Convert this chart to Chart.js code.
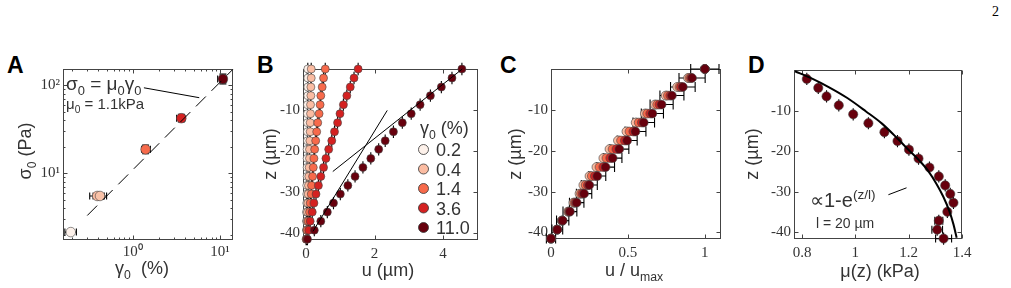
<!DOCTYPE html>
<html>
<head>
<meta charset="utf-8">
<script src="https://cdn.jsdelivr.net/npm/chart.js@4.4.1/dist/chart.umd.min.js"></script>
<style>
  html, body { margin: 0; padding: 0; background: #fff; }
  body { width: 1011px; height: 288px; position: relative; overflow: hidden; }
  canvas { position: absolute; top: 0; }
  .lbl { position: absolute; font: bold 23px 'Liberation Sans', Arial, sans-serif; line-height: 23px; color: #000; }
  .pg { position: absolute; left: 992px; top: 4px; font: 14px 'Liberation Serif', serif; color: #000; }
</style>
</head>
<body>
<div class="pg">2</div>
<div class="lbl" style="left:7px;top:54px">A</div>
<div class="lbl" style="left:257px;top:54px">B</div>
<div class="lbl" style="left:500px;top:54px">C</div>
<div class="lbl" style="left:748px;top:54px">D</div>
<canvas id="chartA" width="250" height="288" style="left:0px"></canvas>
<canvas id="chartB" width="245" height="288" style="left:250px"></canvas>
<canvas id="chartC" width="245" height="288" style="left:495px"></canvas>
<canvas id="chartD" width="271" height="288" style="left:740px"></canvas>
<script>
// ---- data ----
const gammaLevels = ['0.2', '0.4', '1.4', '3.6', '11.0'];
const gammaColors = ['#fdf1ea', '#fbbca2', '#f76a4b', '#d42121', '#67000d'];

// A: stress vs strain (log-log)
const gammaA = [0.194, 0.39, 0.42, 1.4, 3.6, 10.8];
const sigmaA = [2.14, 5.5, 5.5, 18.6, 42, 117];
const gammaLoA = [0.166, 0.32, 0.35, 1.26, 3.18, 9.4];
const gammaHiA = [0.225, 0.47, 0.50, 1.59, 3.96, 11.9];
const sigmaLoA = [2.14, 5.5, 5.5, 16.6, 38, 103];
const sigmaHiA = [2.14, 5.5, 5.5, 20.8, 46.5, 133];
const pointColorA = ['#fdf1ea', '#fbbca2', '#f9c2a8', '#f76a4b', '#d42121', '#67000d'];
const fitGammaA = [0.3, 14];
const fitSigmaA = [3.3, 150];
const pointerGammaA = [1.34, 5.78];
const pointerSigmaA = [93, 71.8];
const xTicksA = [0.2, 0.3, 0.4, 0.5, 0.6, 0.7, 0.8, 0.9, 1, 2, 3, 4, 5, 6, 7, 8, 9, 10];
const yTicksA = [2, 3, 4, 5, 6, 7, 8, 9, 10, 20, 30, 40, 50, 60, 70, 80, 90, 100];
const xLabelValA = [1, 10], xLabelTxtA = ['10⁰', '10¹'];
const yLabelValA = [10, 100], yLabelTxtA = ['10¹', '10²'];

// B: displacement profiles
const zB = [0, -2.2, -4.4, -6.5, -8.7, -10.9, -13.1, -15.3, -17.5, -19.6, -21.8, -24.0, -26.2, -28.4, -30.5, -32.7, -34.9, -37.1, -39.3, -41.5];
const uB02 = [0.05, 0.05, 0.05, 0.05, 0.04, 0.04, 0.04, 0.04, 0.04, 0.03, 0.03, 0.03, 0.03, 0.02, 0.02, 0.02, 0.01, 0.01, 0.01, 0.0];
const uB04 = [0.15, 0.15, 0.14, 0.14, 0.13, 0.13, 0.12, 0.12, 0.11, 0.10, 0.10, 0.09, 0.08, 0.07, 0.06, 0.05, 0.04, 0.03, 0.02, 0.01];
const uB14 = [0.56, 0.51, 0.47, 0.43, 0.41, 0.38, 0.34, 0.31, 0.28, 0.25, 0.23, 0.21, 0.19, 0.16, 0.15, 0.12, 0.10, 0.06, 0.03, 0.01];
const uB36 = [1.52, 1.40, 1.29, 1.19, 1.09, 0.99, 0.92, 0.83, 0.75, 0.66, 0.58, 0.51, 0.43, 0.36, 0.29, 0.23, 0.18, 0.12, 0.08, 0.02];
const uB110 = [4.55, 4.26, 3.95, 3.63, 3.33, 3.07, 2.81, 2.55, 2.31, 2.12, 1.89, 1.66, 1.43, 1.22, 1.00, 0.80, 0.62, 0.43, 0.24, 0.04];
const errZB = 1.5;
const fit1U = [0.2, 2.37], fit1Z = [-39.6, -10.1];
const fit2U = [0.78, 4.56], fit2Z = [-25.0, 0];
const xTicksB = [0, 2, 4];
const yTicksZ = [-40, -30, -20, -10];

// C: normalised profiles
const cU02 = [1.0, 0.895, 0.825, 0.75, 0.68, 0.615, 0.555, 0.495, 0.44, 0.385, 0.345, 0.30, 0.255, 0.215, 0.19, 0.15, 0.112, 0.07, 0.038, 0.0];
const cU04 = [1.0, 0.89, 0.82, 0.745, 0.675, 0.61, 0.55, 0.49, 0.435, 0.38, 0.34, 0.295, 0.25, 0.21, 0.185, 0.145, 0.11, 0.07, 0.038, 0.0];
const cU14 = [1.0, 0.90, 0.835, 0.76, 0.69, 0.625, 0.57, 0.51, 0.455, 0.40, 0.36, 0.315, 0.265, 0.225, 0.195, 0.153, 0.115, 0.072, 0.04, 0.0];
const cU36 = [1.0, 0.91, 0.845, 0.775, 0.705, 0.645, 0.59, 0.535, 0.48, 0.425, 0.385, 0.34, 0.285, 0.24, 0.205, 0.16, 0.12, 0.074, 0.04, 0.0];
const cU110 = [1.0, 0.917, 0.857, 0.786, 0.719, 0.659, 0.603, 0.549, 0.495, 0.444, 0.401, 0.355, 0.301, 0.249, 0.215, 0.167, 0.123, 0.076, 0.041, 0.0];
const xErrC = [0.092, 0.085, 0.08, 0.078, 0.075, 0.072, 0.07, 0.068, 0.065, 0.062, 0.06, 0.058, 0.055, 0.052, 0.05, 0.047, 0.045, 0.04, 0.035, 0.03];
const xTicksC = [0, 0.5, 1];

// D: modulus profile
const zD = zB.slice(1);
const muD = [0.818, 0.861, 0.892, 0.938, 0.992, 1.049, 1.109, 1.158, 1.201, 1.237, 1.278, 1.313, 1.337, 1.356, 1.368, 1.345, 1.313, 1.307, 1.331];
const xErrD = [0, 0, 0, 0, 0, 0, 0, 0, 0, 0, 0, 0, 0, 0, 0, 0, 0.015, 0.02, 0.03];
const curveMuD = [0.774, 0.83, 0.90, 0.97, 1.04, 1.10, 1.16, 1.20, 1.24, 1.275, 1.305, 1.33, 1.353, 1.368, 1.38];
const curveZD = [-0.3, -1.9, -4.2, -6.9, -10.2, -13.2, -17.0, -19.7, -22.3, -25.0, -28.1, -31.2, -34.8, -38.0, -41.3];
const pointerMuD = [1.124, 1.192], pointerZD = [-30.7, -29.0];
const xTicksD = [0.8, 1, 1.2, 1.4];

// ---- helpers ----
const SANS = "'Liberation Sans', Arial, sans-serif";
const SERIF = "'Liberation Serif', 'Times New Roman', serif";
const INK = '#333';

const pts = (xs, ys) => xs.map((x, i) => ({ x, y: ys[i] }));

function rich(ctx, parts, x, y, size, align) {
  const fontOf = m => `${m ? size * 0.68 : size}px ${SANS}`;
  let w = 0;
  parts.forEach(([t, m]) => { ctx.font = fontOf(m); w += ctx.measureText(t).width; });
  let cx = align === 'center' ? x - w / 2 : x;
  ctx.textAlign = 'left';
  ctx.textBaseline = 'alphabetic';
  ctx.fillStyle = INK;
  parts.forEach(([t, m]) => {
    ctx.font = fontOf(m);
    const dy = m === 'sub' ? size * 0.25 : m === 'sup' ? -size * 0.42 : 0;
    ctx.fillText(t, cx, y + dy);
    cx += ctx.measureText(t).width;
  });
}

function richUp(ctx, parts, x, y, size) {
  ctx.save();
  ctx.translate(x, y);
  ctx.rotate(-Math.PI / 2);
  rich(ctx, parts, 0, size * 0.35, size, 'center');
  ctx.restore();
}

const isMajor = (s, v) => s.type !== 'logarithmic' || Math.abs(Math.log10(v) - Math.round(Math.log10(v))) < 1e-9;

const frame = {
  id: 'frame',
  beforeDatasetsDraw(chart) {
    const { ctx, chartArea: a } = chart;
    const xs = chart.scales.x, ys = chart.scales.y;
    const L = Math.round(a.left) + 0.5, R = Math.round(a.right) - 0.5;
    const T = Math.round(a.top) + 0.5, B = Math.round(a.bottom) - 0.5;
    ctx.save();
    ctx.strokeStyle = '#444';
    ctx.lineWidth = 1;
    ctx.strokeRect(L, T, R - L, B - T);
    ctx.beginPath();
    xs.ticks.forEach(t => {
      const p = Math.round(xs.getPixelForValue(t.value)) + 0.5;
      const len = isMajor(xs, t.value) ? 4 : 2;
      ctx.moveTo(p, B); ctx.lineTo(p, B - len);
      ctx.moveTo(p, T); ctx.lineTo(p, T + len);
    });
    ys.ticks.forEach(t => {
      const p = Math.round(ys.getPixelForValue(t.value)) + 0.5;
      const len = isMajor(ys, t.value) ? 4 : 2;
      ctx.moveTo(L, p); ctx.lineTo(L + len, p);
      ctx.moveTo(R, p); ctx.lineTo(R - len, p);
    });
    ctx.stroke();
    ctx.restore();
  }
};

const errorBars = {
  id: 'errorBars',
  beforeDatasetsDraw(chart) {
    const { ctx } = chart;
    const xs = chart.scales.x, ys = chart.scales.y;
    ctx.save();
    ctx.strokeStyle = '#000';
    ctx.lineWidth = 1.1;
    ctx.beginPath();
    chart.data.datasets.forEach(ds => {
      const e = ds.err;
      if (!e) return;
      const cap = e.cap || 0;
      ds.data.forEach((p, i) => {
        const px = xs.getPixelForValue(p.x), py = ys.getPixelForValue(p.y);
        if (e.xLo && e.xLo[i] !== e.xHi[i]) {
          const a = xs.getPixelForValue(e.xLo[i]), b = xs.getPixelForValue(e.xHi[i]);
          ctx.moveTo(a, py); ctx.lineTo(b, py);
          if (cap) { ctx.moveTo(a, py - cap); ctx.lineTo(a, py + cap); ctx.moveTo(b, py - cap); ctx.lineTo(b, py + cap); }
        }
        if (e.yLo && e.yLo[i] !== e.yHi[i]) {
          const a = ys.getPixelForValue(e.yLo[i]), b = ys.getPixelForValue(e.yHi[i]);
          ctx.moveTo(px, a); ctx.lineTo(px, b);
          if (e.yCap) { ctx.moveTo(px - e.yCap, a); ctx.lineTo(px + e.yCap, a); ctx.moveTo(px - e.yCap, b); ctx.lineTo(px + e.yCap, b); }
        }
      });
    });
    ctx.stroke();
    ctx.restore();
  }
};

function axis(o) {
  return {
    type: o.type || 'linear',
    position: o.pos,
    min: o.min, max: o.max,
    grid: { display: false, drawTicks: false },
    border: { display: false },
    ticks: {
      color: INK,
      font: { family: SERIF, size: 15 },
      padding: o.pad,
      maxRotation: 0,
      autoSkip: false,
      callback: o.label || (v => String(v))
    },
    afterBuildTicks: s => { s.ticks = o.ticks.map(v => ({ value: v })); },
    afterFit: s => {
      if (o.pos === 'bottom') { s.height = o.size; s.paddingLeft = 0; s.paddingRight = 0; }
      else { s.width = o.size; s.paddingTop = 0; s.paddingBottom = 0; }
    }
  };
}

function makeChart(id, left, box, xCfg, yCfg, datasets, draw) {
  const cv = document.getElementById(id);
  xCfg.size = cv.height - box.b;
  yCfg.size = box.l - left;
  return new Chart(cv, {
    type: 'scatter',
    data: { datasets },
    options: {
      responsive: false,
      animation: false,
      events: [],
      layout: { padding: { left: 0, top: box.t, right: left + cv.width - box.r, bottom: 0 } },
      plugins: { legend: { display: false }, tooltip: { enabled: false } },
      scales: { x: axis(Object.assign({ pos: 'bottom' }, xCfg)), y: axis(Object.assign({ pos: 'left' }, yCfg)) }
    },
    plugins: [frame, errorBars, { id: 'txt', afterDraw: c => draw(c, c.ctx) }]
  });
}

const dot = (data, color, r, order, err) => ({
  data, backgroundColor: color, borderColor: '#444', borderWidth: 0.6,
  pointRadius: r, clip: false, order, err
});
const line = (data, width, dash) => ({
  data, showLine: true, pointRadius: 0, borderColor: '#000', borderWidth: width,
  borderDash: dash || [], clip: false, order: -1
});

// ---- panel A ----
makeChart('chartA', 0, { l: 63, t: 69, r: 233, b: 240 },
  { type: 'logarithmic', min: 0.158, max: 14.1, ticks: xTicksA, pad: 3,
    label: v => { const k = xLabelValA.indexOf(v); return k < 0 ? '' : xLabelTxtA[k]; } },
  { type: 'logarithmic', min: 1.74, max: 152, ticks: yTicksA, pad: 3,
    label: v => { const k = yLabelValA.indexOf(v); return k < 0 ? '' : yLabelTxtA[k]; } },
  [
    line(pts(fitGammaA, fitSigmaA), 1, [14, 8]),
    line(pts(pointerGammaA, pointerSigmaA), 1),
    dot(pts(gammaA, sigmaA), pointColorA, 4.8, 0,
      { xLo: gammaLoA, xHi: gammaHiA, yLo: sigmaLoA, yHi: sigmaHiA, cap: 3.5, yCap: 3.5 })
  ],
  (c, ctx) => {
    richUp(ctx, [['σ', ''], ['0', 'sub'], [' (Pa)', '']], 25, 151, 18);
    rich(ctx, [['γ', ''], ['0', 'sub'], ['  (%)', '']], 142, 274, 18, 'center');
    rich(ctx, [['σ', ''], ['0', 'sub'], [' = μ', ''], ['0', 'sub'], ['γ', ''], ['0', 'sub']], 66, 90, 19, 'left');
    rich(ctx, [['μ', ''], ['0', 'sub'], [' = 1.1kPa', '']], 66, 109, 15, 'left');
  });

// ---- panel B ----
const seriesB = [uB02, uB04, uB14, uB36, uB110];
makeChart('chartB', 250, { l: 303, t: 69, r: 478, b: 240 },
  { min: -0.09, max: 5.02, ticks: xTicksB, pad: 5 },
  { min: -41.7, max: 0, ticks: yTicksZ, pad: 3 },
  [
    line(pts(fit1U, fit1Z), 1),
    line(pts(fit2U, fit2Z), 1),
    ...seriesB.map((u, i) => dot(pts(u, zB), gammaColors[i], 4, 4 - i,
      { yLo: zB.map(z => z - errZB), yHi: zB.map(z => z + errZB) }))
  ],
  (c, ctx) => {
    richUp(ctx, [['z (µm)', '']], 20, 154, 18);
    rich(ctx, [['u (µm)', '']], 138, 276, 18, 'center');
    rich(ctx, [['γ', ''], ['0', 'sub'], [' (%)', '']], 170, 134, 18, 'left');
    gammaLevels.forEach((g, i) => {
      const cy = 149.5 + i * 19.5;
      ctx.beginPath();
      ctx.arc(173.5, cy, 5, 0, Math.PI * 2);
      ctx.fillStyle = gammaColors[i];
      ctx.fill();
      ctx.lineWidth = 0.8;
      ctx.strokeStyle = '#333';
      ctx.stroke();
      rich(ctx, [[g, '']], 186, cy + 6.5, 18, 'left');
    });
  });

// ---- panel C ----
const seriesC = [cU02, cU04, cU14, cU36, cU110];
makeChart('chartC', 495, { l: 551, t: 69, r: 721, b: 239 },
  { min: 0, max: 1.105, ticks: xTicksC, pad: 5 },
  { min: -41.6, max: 0, ticks: yTicksZ, pad: 3 },
  seriesC.map((u, i) => dot(pts(u, zB), gammaColors[i], 4.4, 4 - i,
    i === 4 ? { xLo: u.map((v, k) => v - xErrC[k]), xHi: u.map((v, k) => v + xErrC[k]), cap: 5 } : null)),
  (c, ctx) => {
    richUp(ctx, [['z (µm)', '']], 20, 154, 18);
    rich(ctx, [['u / u', ''], ['max', 'sub']], 139, 276, 18, 'center');
  });

// ---- panel D ----
makeChart('chartD', 740, { l: 794, t: 70, r: 962, b: 239 },
  { min: 0.77, max: 1.4, ticks: xTicksD, pad: 5 },
  { min: -41.6, max: 0, ticks: yTicksZ, pad: 3 },
  [
    Object.assign(line(pts(curveMuD, curveZD), 2), { cubicInterpolationMode: 'monotone' }),
    line(pts(pointerMuD, pointerZD), 1),
    dot(pts(muD, zD), '#67000d', 4.6, 0, {
      yLo: zD.map(z => z - errZB), yHi: zD.map(z => z + errZB),
      xLo: muD.map((v, k) => v - xErrD[k]), xHi: muD.map((v, k) => v + xErrD[k]), cap: 4
    })
  ],
  (c, ctx) => {
    richUp(ctx, [['z (µm)', '']], 12, 154, 18);
    rich(ctx, [['μ(z) (kPa)', '']], 140, 277, 18, 'center');
    rich(ctx, [['∝1-e', ''], ['(z/l)', 'sup']], 70, 207, 20, 'left');
    rich(ctx, [['l = 20 µm', '']], 76, 228, 14, 'left');
  });
</script>
</body>
</html>
